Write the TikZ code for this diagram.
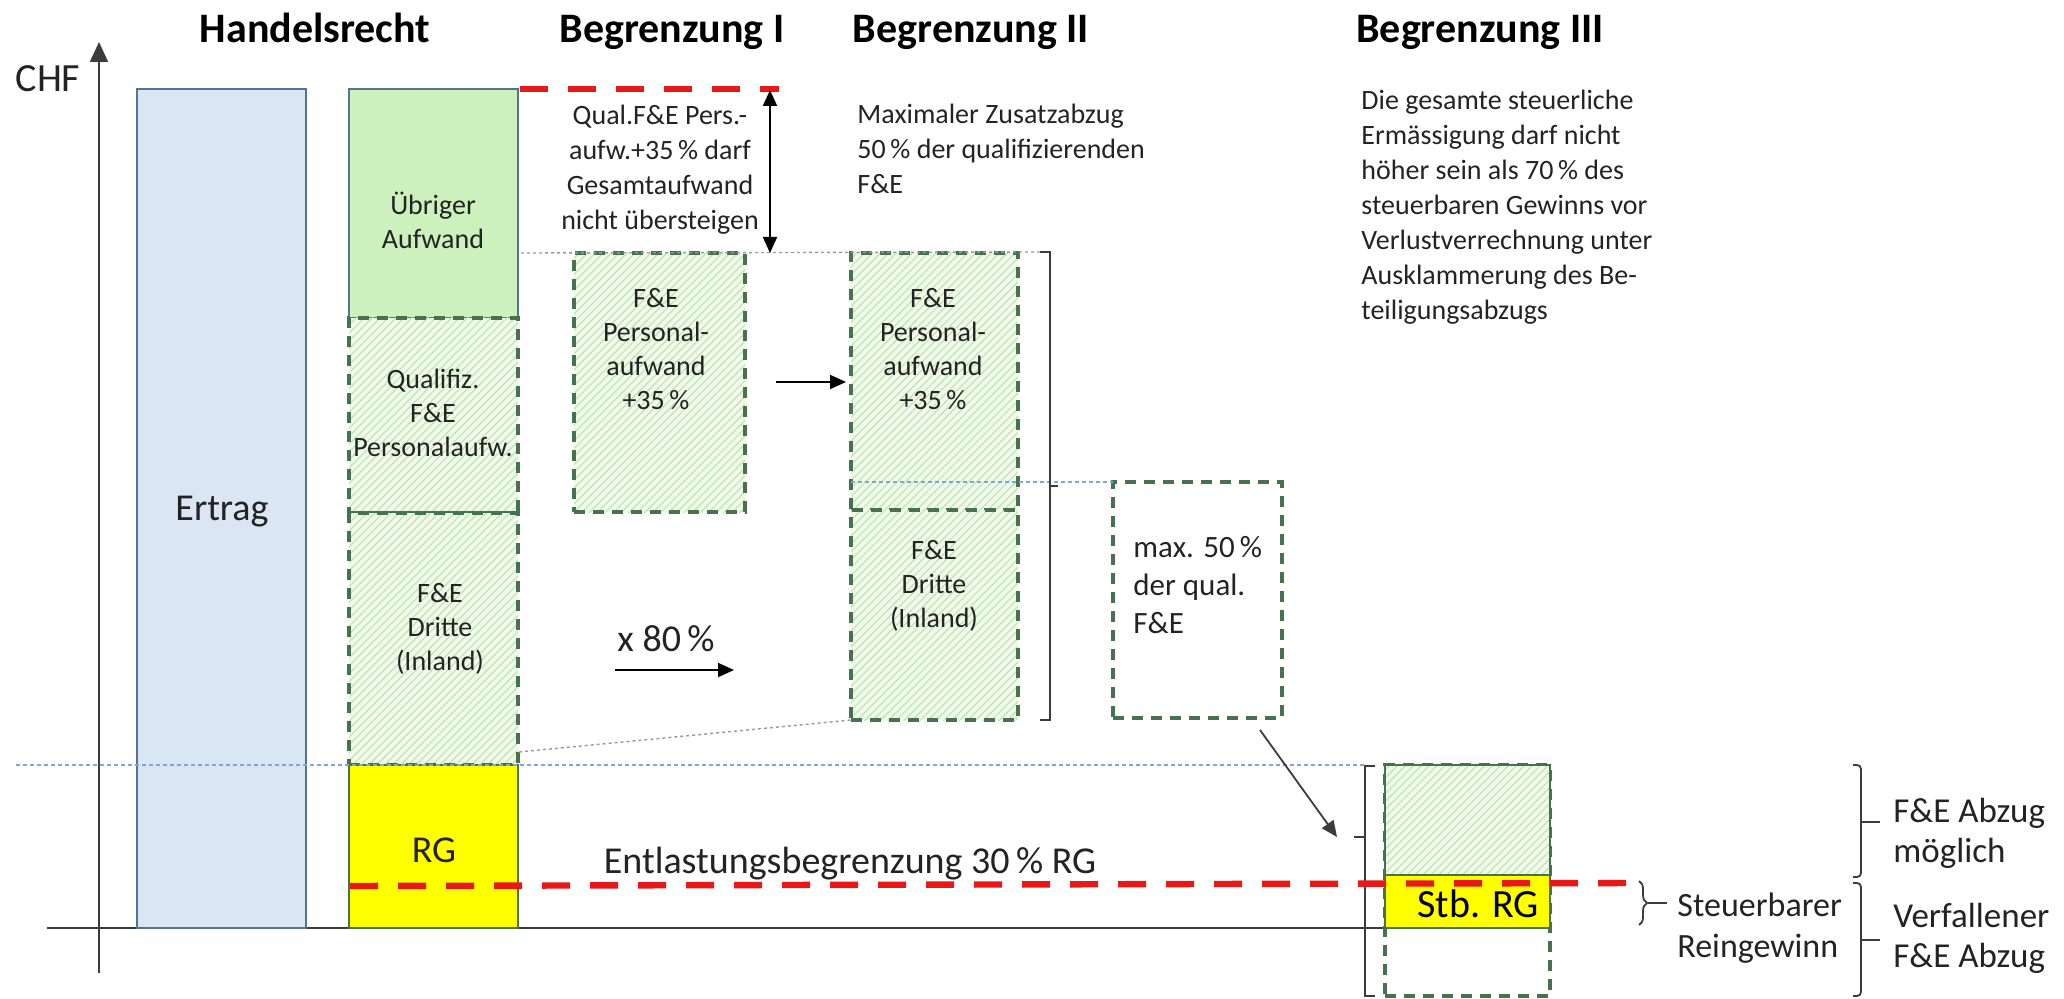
\documentclass[tikz,border=0pt]{standalone}
\usepackage{fontspec}
\setmainfont{Carlito}
\usetikzlibrary{arrows.meta,patterns.meta,decorations.pathreplacing,calc}

\definecolor{ertragfill}{RGB}{218,230,243}
\definecolor{bluegray}{RGB}{84,116,150}
\definecolor{uebrigfill}{RGB}{204,241,188}
\definecolor{hatchbg}{RGB}{240,250,235}
\definecolor{hatchln}{RGB}{186,224,168}
\definecolor{dgreen}{RGB}{70,115,78}
\definecolor{rgyellow}{RGB}{255,255,0}
\definecolor{redline}{RGB}{232,24,24}
\definecolor{bluedot}{RGB}{130,165,210}
\definecolor{txt}{RGB}{35,35,35}
\definecolor{axisc}{RGB}{60,60,60}

\tikzset{
  hatched/.style={preaction={fill=hatchbg}, pattern={Lines[angle=45,distance=2.8pt,line width=0.5pt]}, pattern color=hatchln},
  gdash/.style={draw=dgreen, line width=1.6pt, dash pattern=on 5.5pt off 4pt},
  redd/.style={draw=redline, line width=3.2pt, dash pattern=on 14pt off 10pt},
  grydot/.style={draw=gray!80, line width=0.7pt, dash pattern=on 1.5pt off 1.5pt},
  bludot/.style={draw=bluedot, line width=0.7pt, dash pattern=on 2pt off 1.5pt},
  smalltxt/.style={font=\fontsize{14}{17.5}\selectfont, text=txt, inner sep=0pt},
  boxtxt/.style={font=\fontsize{14}{17}\selectfont, text=txt, inner sep=0pt, align=center},
  bigtxt/.style={font=\fontsize{19}{22}\selectfont, text=txt, inner sep=0pt},
  sidetxt/.style={font=\fontsize{17.5}{20}\selectfont, text=txt, inner sep=0pt, align=left, anchor=west},
  titletxt/.style={font=\fontsize{21}{25}\selectfont\bfseries, text=black, inner sep=0pt},
  brk/.style={draw=axisc, line width=0.9pt},
  tri/.style={-{Triangle[length=8pt,width=7pt]}, draw=black, line width=0.9pt},
}

\newcommand\boxat[6]{\node[#6, minimum width={(#4-#2)*0.5pt}, minimum height={(#5-#3)*0.5pt}, inner sep=0pt, outer sep=0pt] (#1) at ({(#2+#4)/2},{(#3+#5)/2}) {};}

\begin{document}
\begin{tikzpicture}[x=0.5pt,y=-0.5pt]
\useasboundingbox (0,0) rectangle (2064,999);

% ---------- axes ----------
\coordinate (yb) at (99,973);
\coordinate (yt) at (99,42);
\coordinate (xl) at (47,928);
\coordinate (xr) at (1393,928);
\draw[draw=axisc, line width=0.9pt, -{Triangle[length=10pt,width=9pt]}] (yb) -- (yt);
\draw[draw=axisc, line width=0.9pt] (xl) -- (xr);
\node[font=\fontsize{20}{24}\selectfont, text=txt, inner sep=0pt] (chf) at (48,79) {CHF};

% ---------- titles ----------
\node[titletxt] (tH) at (315,28) {Handelsrecht};
\node[titletxt] (tB1) at (672,32) {Begrenzung I};
\node[titletxt] (tB2) at (971,32) {Begrenzung II};
\node[titletxt] (tB3) at (1480,32) {Begrenzung III};

% ---------- Handelsrecht ----------
\boxat{ertrag}{137}{89}{306}{928}{fill=ertragfill, draw=bluegray, line width=1.1pt}
\node[bigtxt] (ertragT) at (222,512) {Ertrag};

\boxat{uebrig}{349}{89}{518}{318}{fill=uebrigfill, draw=bluegray, line width=1.1pt}
\boxat{qualif}{349}{318}{518}{513}{hatched, gdash}
\boxat{dritte}{349}{513}{518}{765}{hatched, gdash}
\boxat{rg}{349}{765}{518}{928}{fill=rgyellow, draw=dgreen, line width=1.1pt}
\node[boxtxt] (uebrigT) at (433,220) {Übriger\\Aufwand};
\node[boxtxt] (qualifT) at (433,413) {Qualifiz.\\F\&E\\Personalaufw.};
\node[boxtxt] (dritteT) at (440,629) {F\&E\\Dritte\\(Inland)};
\node[bigtxt] (rgT) at (434,850) {RG};

% ---------- Begrenzung I ----------
\boxat{bI}{574}{253}{745}{512}{hatched, gdash}
\node[boxtxt] (bIT) at (656,349) {F\&E\\Personal-\\aufwand\\+35\,\%};
\node[smalltxt, align=center] (qualT) at (660,170) {Qual.F\&E Pers.-\\aufw.+35\,\% darf\\Gesamtaufwand\\nicht übersteigen};
\node[bigtxt] (x80) at (666,639) {x 80\,\%};

% ---------- Begrenzung II ----------
\boxat{bIIa}{851}{253}{1018}{510}{hatched, gdash}
\boxat{bIIb}{851}{510}{1018}{720}{hatched, gdash}
\node[boxtxt] (bIIaT) at (933,349) {F\&E\\Personal-\\aufwand\\+35\,\%};
\node[boxtxt] (bIIbT) at (934,586) {F\&E\\Dritte\\(Inland)};
\node[smalltxt, align=left, anchor=west] (maxT) at (857,149) {Maximaler Zusatzabzug\\50\,\% der qualifizierenden\\F\&E};
\boxat{maxb}{1113}{482}{1282}{718}{gdash}
\node[font=\fontsize{15.5}{19}\selectfont, text=txt, inner sep=0pt, align=left, anchor=west] (maxbT) at (1133,585) {max. 50\,\%\\der qual.\\F\&E};

% ---------- Begrenzung III ----------
\node[smalltxt, align=left, anchor=west] (b3T) at (1361,207) {Die gesamte steuerliche\\Ermässigung darf nicht\\höher sein als 70\,\% des\\steuerbaren Gewinns vor\\Verlustverrechnung unter\\Ausklammerung des Be-\\teiligungsabzugs};
\boxat{stbout}{1385}{765}{1550}{996}{gdash}
\boxat{stbh}{1385}{765}{1550}{875}{hatched, draw=dgreen, line width=0.8pt}
\boxat{stby}{1385}{875}{1550}{928}{fill=rgyellow, draw=dgreen, line width=1.1pt}

% ---------- dotted guide lines ----------
\coordinate (gA) at (521,253);
\coordinate (gB) at (1040,252);
\draw[grydot] (gA) -- (gB);
\coordinate (pA) at (519,752);
\draw[grydot] (pA) -- (bIIb.south west);
\coordinate (bl0) at (16,765);
\coordinate (bl1) at (1365,765);
\draw[bludot] (bl0) -- (bl1);
\draw[bludot] (bIIa.west |- maxb.north) -- (maxb.north west);

% ---------- brackets ----------
\draw[brk] (1040,252) -- (1050,252) -- (1050,720) -- (1040,720);
\coordinate (brIIm) at (1050,486);
\coordinate (brIIt) at (1058,486);
\draw[brk] (brIIm) -- (brIIt);

\draw[brk] (1375,766) -- (1365,766) -- (1365,996) -- (1375,996);
\coordinate (brIIIm) at (1365,837);
\coordinate (brIIIt) at (1354,837);
\draw[brk] (brIIIm) -- (brIIIt);

\draw[brk, decorate, decoration={brace, amplitude=4pt}] (1639,881) -- (1639,925);
\coordinate (sbA) at (1648,903);
\coordinate (sbB) at (1667,903);
\draw[brk] (sbA) -- (sbB);

\draw[brk, rounded corners=2pt] (1853,765) -- (1861,765) -- (1861,877) -- (1853,877);
\coordinate (rb1a) at (1861,822);
\coordinate (rb1b) at (1880,822);
\draw[brk] (rb1a) -- (rb1b);
\draw[brk, rounded corners=2pt] (1853,883) -- (1861,883) -- (1861,996) -- (1853,996);
\coordinate (rb2a) at (1861,940);
\coordinate (rb2b) at (1880,940);
\draw[brk] (rb2a) -- (rb2b);

% ---------- red dashed limits ----------
\coordinate (rtA) at (520,89);
\coordinate (rtB) at (779,89);
\draw[redd] (rtA) -- (rtB);
\coordinate (rlA) at (350,886);
\coordinate (rlB) at (1636,883);
\draw[redd] (rlA) -- (rlB);

% ---------- arrows ----------
\coordinate (daT) at (770,90);
\coordinate (daB) at (770,253);
\draw[draw=black, line width=0.9pt, {Triangle[length=8pt,width=7pt]}-{Triangle[length=8pt,width=7pt]}] (daT) -- (daB);
\coordinate (a1s) at (776,382);
\coordinate (a1e) at (846,382);
\draw[tri] (a1s) -- (a1e);
\coordinate (a2s) at (615,670);
\coordinate (a2e) at (734,670);
\draw[tri] (a2s) -- (a2e);
\coordinate (a3s) at (1260,730);
\coordinate (a3e) at (1337,837);
\draw[tri, draw=axisc] (a3s) -- (a3e);

% ---------- remaining labels ----------
\node[bigtxt] (entl) at (850,864) {Entlastungsbegrenzung 30\,\% RG};
\node[font=\fontsize{20}{24}\selectfont, text=black, inner sep=0pt] (stbT) at (1478,904) {Stb. RG};
\node[font=\fontsize{17}{20.5}\selectfont, text=txt, inner sep=0pt, align=left, anchor=west] (steuT) at (1677,928) {Steuerbarer\\Reingewinn};
\node[sidetxt] (moegl) at (1893,833) {F\&E Abzug\\möglich};
\node[sidetxt] (verf) at (1893,938) {Verfallener\\F\&E Abzug};

\end{tikzpicture}
\end{document}
